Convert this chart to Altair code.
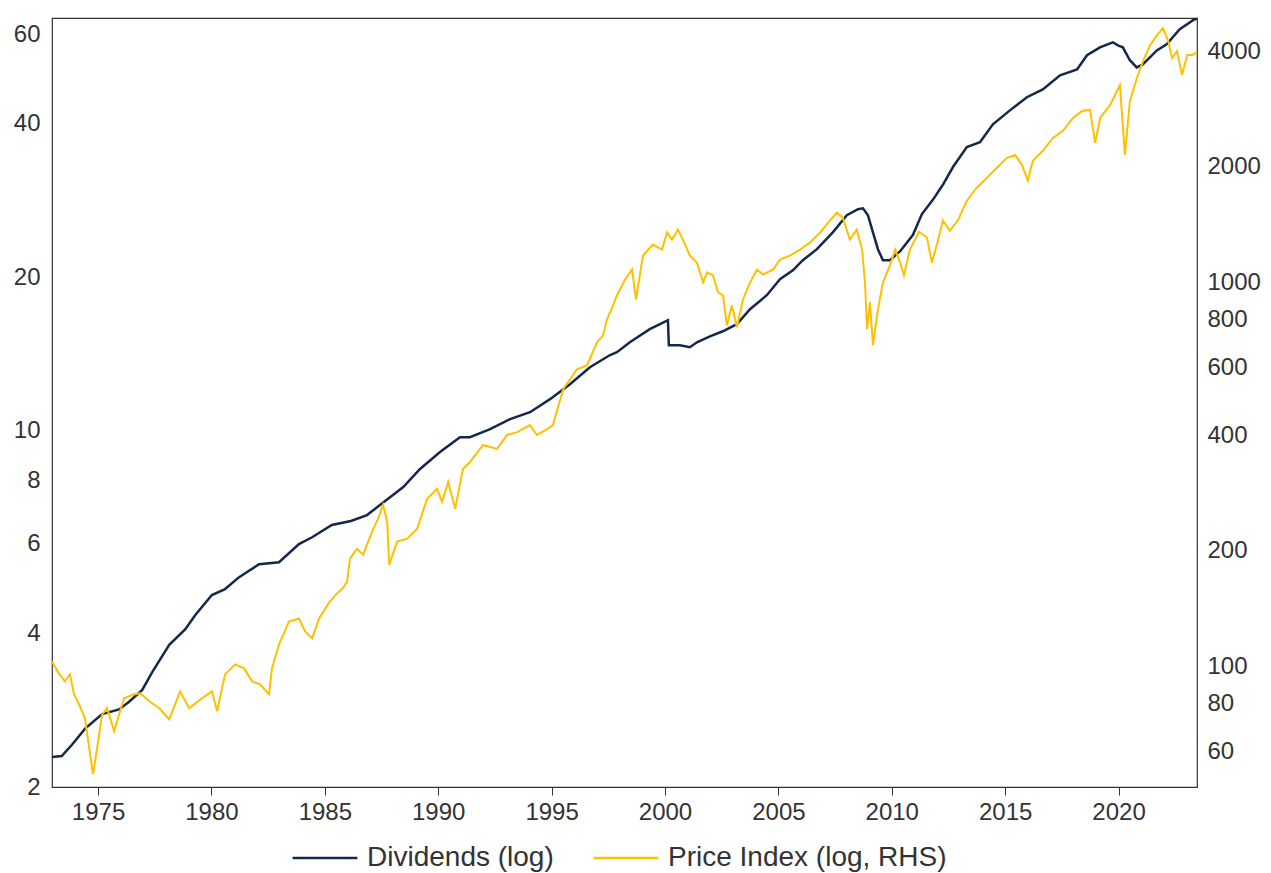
import altair as alt
import pandas as pd

# ---- Data ----
div_years = [1972.97, 1973.4, 1973.85, 1974.42, 1975.18, 1975.93, 1976.37, 1976.95, 1977.39, 1978.14,
             1978.85, 1979.29, 1980.02, 1980.60, 1981.22, 1982.10, 1982.98, 1983.86, 1984.44, 1985.31,
             1986.15, 1986.86, 1987.66, 1988.46, 1989.20, 1990.08, 1990.96, 1991.40, 1992.29, 1993.17,
             1994.05, 1994.93, 1995.81, 1996.69, 1997.56, 1997.88, 1998.45, 1999.33, 1999.78, 2000.13,
             2000.17, 2000.66, 2001.10, 2001.41, 2001.98, 2002.55, 2003.17, 2003.75, 2004.49, 2005.07,
             2005.64, 2006.08, 2006.70, 2007.40, 2008.02, 2008.51, 2008.73, 2008.95, 2009.17, 2009.39,
             2009.61, 2009.92, 2010.37, 2010.93, 2011.33, 2011.82, 2012.26, 2012.70, 2013.31, 2013.89,
             2014.46, 2015.21, 2015.96, 2016.66, 2017.42, 2018.17, 2018.61, 2019.18, 2019.75, 2019.97,
             2020.19, 2020.50, 2020.80, 2021.07, 2021.69, 2022.12, 2022.70, 2023.27, 2023.45]
div_values = [2.29, 2.30, 2.42, 2.60, 2.78, 2.84, 2.94, 3.10, 3.36, 3.80,
              4.08, 4.35, 4.76, 4.89, 5.16, 5.47, 5.52, 5.99, 6.18, 6.53,
              6.65, 6.83, 7.28, 7.75, 8.41, 9.08, 9.71, 9.71, 10.07, 10.54,
              10.87, 11.53, 12.33, 13.32, 14.06, 14.26, 14.91, 15.82, 16.18, 16.47,
              14.71, 14.71, 14.58, 14.91, 15.31, 15.67, 16.18, 17.31, 18.44, 19.82,
              20.63, 21.6, 22.7, 24.5, 26.46, 27.2, 27.3, 26.46, 24.5, 22.7,
              21.6, 21.6, 22.5, 24.2, 26.6, 28.4, 30.4, 32.9, 36.0, 36.8,
              39.9, 42.5, 45.1, 46.7, 49.8, 51.1, 54.5, 56.5, 57.8, 57.0,
              56.5, 53.3, 51.6, 52.3, 55.7, 57.3, 61.3, 63.8, 64.3]

price_years = [1972.97, 1973.27, 1973.54, 1973.76, 1973.94, 1974.16, 1974.42, 1974.65, 1974.78, 1974.96,
               1975.18, 1975.40, 1975.71, 1975.93, 1976.15, 1976.59, 1976.86, 1977.26, 1977.70, 1978.14,
               1978.62, 1979.02, 1979.58, 1980.02, 1980.25, 1980.60, 1981.04, 1981.44, 1981.79, 1982.14,
               1982.54, 1982.67, 1982.98, 1983.42, 1983.86, 1984.13, 1984.44, 1984.75, 1985.20, 1985.50,
               1985.80, 1985.98, 1986.11, 1986.42, 1986.69, 1987.08, 1987.35, 1987.57, 1987.75, 1987.84,
               1988.19, 1988.63, 1989.07, 1989.51, 1989.95, 1990.17, 1990.44, 1990.75, 1991.09, 1991.40,
               1991.98, 1992.59, 1993.04, 1993.48, 1994.05, 1994.35, 1994.80, 1995.06, 1995.51, 1996.12,
               1996.57, 1997.00, 1997.27, 1997.44, 1997.71, 1997.88, 1998.24, 1998.55, 1998.72, 1999.03,
               1999.47, 1999.87, 2000.09, 2000.31, 2000.57, 2000.79, 2001.10, 2001.41, 2001.68, 2001.86,
               2002.12, 2002.34, 2002.56, 2002.73, 2002.95, 2003.17, 2003.44, 2003.75, 2004.06, 2004.32,
               2004.77, 2005.07, 2005.51, 2005.95, 2006.39, 2006.84, 2007.27, 2007.58, 2007.84, 2008.15,
               2008.46, 2008.69, 2008.82, 2008.91, 2009.04, 2009.17, 2009.39, 2009.61, 2009.92, 2010.15,
               2010.37, 2010.54, 2010.80, 2011.20, 2011.55, 2011.77, 2011.99, 2012.26, 2012.56, 2012.91,
               2013.31, 2013.75, 2014.20, 2014.64, 2015.08, 2015.44, 2015.74, 2016.00, 2016.22, 2016.66,
               2017.11, 2017.55, 2017.99, 2018.39, 2018.74, 2018.97, 2019.19, 2019.63, 2020.06, 2020.28,
               2020.50, 2020.81, 2021.08, 2021.39, 2021.70, 2021.96, 2022.19, 2022.36, 2022.58, 2022.80,
               2023.03, 2023.25, 2023.45]
price_values = [103, 95.9, 91.4, 95.3, 84.6, 79.7, 73.3, 59.1, 52.4, 61.2,
                75.0, 77.8, 67.8, 75.0, 82.6, 84.6, 85.1, 81.1, 77.8, 72.8,
                86.1, 77.8, 82.6, 86.1, 76.4, 95.3, 101.2, 98.8, 91.4, 89.8,
                84.6, 98.8, 114, 130.9, 133.3, 123.3, 118.3, 133.3, 147, 154,
                160, 166, 190.8, 202.5, 195.4, 224.3, 242.4, 263.5, 238.1, 184.0,
                211.3, 215.0, 228.3, 273.2, 290.0, 268.3, 302.2, 257.3, 326.7, 340.7,
                377.3, 368.4, 400.6, 407.6, 425.1, 400.6, 415.0, 425.1, 527.3, 594.3,
                608.8, 698, 728, 801, 871, 925, 1018, 1081, 903, 1175,
                1255, 1218, 1349, 1293, 1373, 1293, 1175, 1127, 1000, 1062,
                1043, 942, 925, 773, 871, 764, 903, 1000, 1081, 1049,
                1081, 1147, 1175, 1218, 1270, 1349, 1449, 1520, 1475, 1293,
                1373, 1218, 1000, 755, 887, 686, 851, 1000, 1107, 1218,
                1127, 1043, 1218, 1355, 1309, 1127, 1255, 1449, 1365, 1449,
                1633, 1765, 1874, 1990, 2112, 2150, 2025, 1841, 2074, 2203,
                2380, 2482, 2684, 2798, 2815, 2310, 2684, 2900, 3268, 2150,
                2970, 3408, 3773, 4150, 4406, 4596, 4253, 3840, 4005, 3468,
                3910, 3910, 3980]

series_names = ["Dividends (log)", "Price Index (log, RHS)"]
series_colors = ["#14284B", "#FFC000"]
x_ticks = [1975, 1980, 1985, 1990, 1995, 2000, 2005, 2010, 2015, 2020]
left_ticks = [2, 4, 6, 8, 10, 20, 40, 60]
right_ticks = [60, 80, 100, 200, 400, 600, 800, 1000, 2000, 4000]

df_div = pd.DataFrame({"year": div_years, "value": div_values, "series": series_names[0]})
df_price = pd.DataFrame({"year": price_years, "value": price_values, "series": series_names[1]})

FONT = "Liberation Sans"

x_enc = alt.X(
    "year:Q",
    scale=alt.Scale(domain=[1972.97, 2023.46], nice=False, zero=False),
    axis=alt.Axis(values=x_ticks, format="d", title=None, grid=False, domain=False,
                  ticks=True, tickSize=8, tickColor="#333333", labelPadding=5),
)
color_enc = alt.Color(
    "series:N",
    scale=alt.Scale(domain=series_names, range=series_colors),
    legend=alt.Legend(title=None, orient="none", direction="horizontal",
                      legendX=239, legendY=806,
                      symbolType="stroke", symbolSize=4200, symbolStrokeWidth=2.5,
                      labelFontSize=28, labelFont=FONT, labelColor="#333333",
                      labelOffset=8, columnPadding=34, labelLimit=500, padding=0),
)

left = alt.Chart(df_div).mark_line(strokeWidth=2.5).encode(
    x=x_enc,
    y=alt.Y("value:Q",
            scale=alt.Scale(type="log", domain=[2, 64.5], nice=False),
            axis=alt.Axis(values=left_ticks, orient="left", title=None, ticks=False,
                          domain=False, grid=False, labelPadding=12,
                          minExtent=44, maxExtent=44)),
    color=color_enc,
)

right = alt.Chart(df_price).mark_line(strokeWidth=2).encode(
    x=x_enc,
    y=alt.Y("value:Q",
            scale=alt.Scale(type="log", domain=[48.5, 4885], nice=False),
            axis=alt.Axis(values=right_ticks, orient="right", title=None, ticks=False,
                          domain=False, grid=False, labelPadding=10, format="d")),
    color=color_enc,
)

chart = (
    alt.layer(left, right)
    .resolve_scale(y="independent")
    .properties(width=1145, height=769, background="white",
                padding={"left": 0, "top": 5, "right": 0, "bottom": 0})
    .configure_view(stroke="#333333", strokeWidth=1.2)
    .configure_axis(labelFont=FONT, labelFontSize=24, labelColor="#333333")
)

chart.save("out.html", embed_options={"renderer": "svg", "actions": False})
